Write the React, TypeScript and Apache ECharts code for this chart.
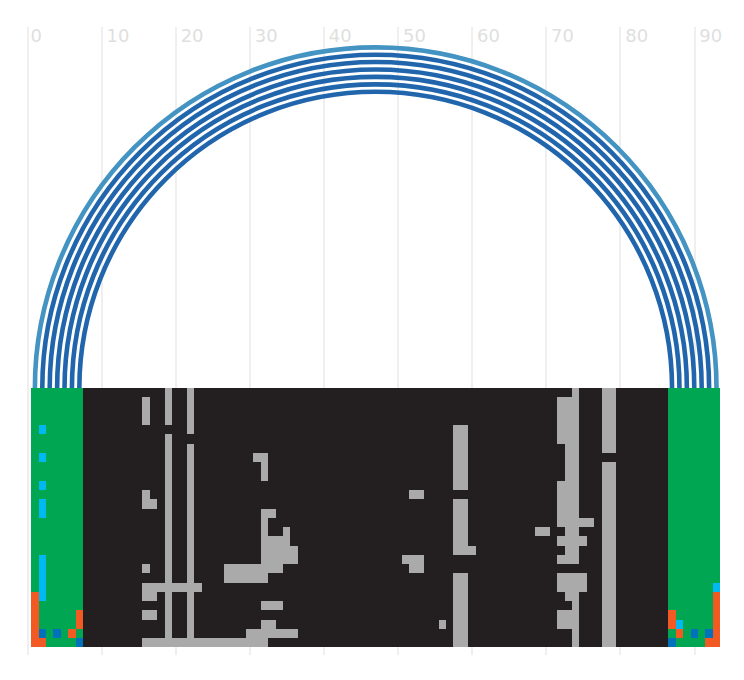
import React, { useEffect, useRef } from "react";
import * as echarts from "echarts";

// Each run: [firstRow, lastRow, firstColumn, lastColumn]
type Run = [number, number, number, number];

const tickValues = [0, 10, 20, 30, 40, 50, 60, 70, 80, 90];
const rowCount = 28;

const greenRuns: Run[] = [[0, 27, 1, 7], [0, 27, 87, 93]];
const darkRuns: Run[] = [[0, 27, 8, 86]];
const greyRuns: Run[] = [
  [1, 3, 16, 16], [11, 11, 16, 16], [12, 12, 16, 17], [19, 19, 16, 16], [21, 21, 16, 23],
  [22, 22, 16, 17], [24, 24, 16, 17], [27, 27, 16, 32],
  [0, 3, 19, 19], [5, 27, 19, 19], [0, 4, 22, 22], [6, 27, 22, 22],
  [7, 7, 31, 32], [8, 9, 32, 32], [13, 13, 32, 33], [14, 15, 32, 32], [15, 15, 35, 35],
  [16, 16, 32, 35], [17, 18, 32, 36], [19, 19, 27, 34], [20, 20, 27, 32], [23, 23, 32, 34],
  [25, 25, 32, 33], [26, 26, 30, 36],
  [11, 11, 52, 53], [18, 18, 51, 53], [19, 19, 52, 53], [25, 25, 56, 56],
  [4, 10, 58, 59], [12, 17, 58, 59], [17, 17, 60, 60], [20, 27, 58, 59], [15, 15, 69, 70],
  [0, 0, 74, 74], [1, 5, 72, 74], [6, 9, 73, 74], [10, 13, 72, 74], [14, 14, 72, 76],
  [15, 15, 73, 74], [16, 16, 72, 75], [17, 17, 73, 74], [18, 18, 72, 74], [20, 21, 72, 75],
  [22, 22, 73, 74], [23, 23, 74, 74], [24, 25, 72, 74], [26, 27, 74, 74],
  [0, 6, 78, 79], [8, 27, 78, 79],
];
const cyanRuns: Run[] = [
  [4, 4, 2, 2], [7, 7, 2, 2], [10, 10, 2, 2], [12, 13, 2, 2], [18, 22, 2, 2],
  [25, 25, 88, 88], [21, 21, 93, 93],
];
const orangeRuns: Run[] = [
  [22, 27, 1, 1], [27, 27, 2, 2], [24, 25, 7, 7], [26, 26, 6, 6],
  [24, 25, 87, 87], [26, 26, 88, 88], [22, 27, 93, 93], [27, 27, 92, 92],
];
const blueRuns: Run[] = [
  [26, 26, 2, 2], [26, 26, 4, 4], [27, 27, 7, 7],
  [26, 26, 90, 90], [26, 26, 92, 92], [27, 27, 87, 87],
];

const linkSources = [1, 2, 3, 4, 5, 6, 7];
const linkTargets = [93, 92, 91, 90, 89, 88, 87];
const linkColors = ["#4393c3", "#2166ac", "#2166ac", "#2166ac", "#2166ac", "#2166ac", "#2166ac"];

const cellSeries = (name: string, data: Run[], color: string) => ({
  type: "custom",
  name,
  coordinateSystem: "cartesian2d",
  silent: true,
  data,
  renderItem: (_: any, api: any) => {
    const tl = api.coord([api.value(2) - 0.5, api.value(0)]);
    const br = api.coord([api.value(3) + 0.5, api.value(1) + 1]);
    const x = Math.round(tl[0]);
    const y = Math.round(tl[1]);
    return {
      type: "rect",
      shape: { x, y, width: Math.round(br[0]) - x, height: Math.round(br[1]) - y },
      style: { fill: color, stroke: "none" },
    };
  },
});

const labelStyle = { color: "#dfdfdf", fontSize: 18, fontFamily: "DejaVu Sans" };

export default function App() {
  const ref = useRef<HTMLDivElement>(null);
  useEffect(() => {
    const chart = echarts.init(ref.current!, undefined, { renderer: "svg" });
    chart.setOption({
      animation: false,
      backgroundColor: "#ffffff",
      grid: { left: 27.479, top: 27, width: 666.81, height: 628, containLabel: false },
      xAxis: {
        type: "value",
        position: "top",
        min: tickValues[0],
        max: tickValues[tickValues.length - 1],
        interval: 10,
        axisLine: { show: false },
        axisTick: { show: false },
        splitLine: { show: true, lineStyle: { color: "#eaeaea", width: 1.5 } },
        axisLabel: {
          inside: true,
          margin: -1,
          align: "left",
          verticalAlign: "top",
          ...labelStyle,
          hideOverlap: false,
          showMinLabel: true,
          showMaxLabel: true,
          formatter: (v: number) => (v === 0 ? `{first|${v}}` : `{rest|${v}}`),
          rich: {
            first: { ...labelStyle, padding: [0, 0, 0, 3] },
            rest: { ...labelStyle, padding: [0, 0, 0, 5] },
          },
        },
      },
      yAxis: {
        type: "value",
        show: false,
        inverse: true,
        min: -(361.15 / 9.26),
        max: 266.85 / 9.26,
        splitLine: { show: false },
      },
      series: [
        {
          type: "custom",
          name: "links",
          coordinateSystem: "cartesian2d",
          silent: true,
          data: linkSources.map((s, i) => [s, linkTargets[i], i]),
          renderItem: (_: any, api: any) => {
            const a = api.coord([api.value(0), 0]);
            const b = api.coord([api.value(1), 0]);
            return {
              type: "arc",
              shape: {
                cx: (a[0] + b[0]) / 2,
                cy: a[1],
                r: (b[0] - a[0]) / 2,
                startAngle: Math.PI,
                endAngle: Math.PI * 2,
                clockwise: true,
              },
              style: { fill: "none", stroke: linkColors[api.value(2)], lineWidth: 4.6 },
            };
          },
        },
        cellSeries("green", greenRuns, "#00a651"),
        cellSeries("dark", darkRuns, "#231f20"),
        cellSeries("grey", greyRuns, "#aaaaaa"),
        cellSeries("cyan", cyanRuns, "#00b9f2"),
        cellSeries("orange", orangeRuns, "#f15a22"),
        cellSeries("blue", blueRuns, "#0072bc"),
      ],
    });
    return () => chart.dispose();
  }, []);
  return (
    <div
      ref={ref}
      data-rows={rowCount}
      style={{ position: "absolute", left: 0, top: 0, width: 744, height: 680 }}
    />
  );
}
